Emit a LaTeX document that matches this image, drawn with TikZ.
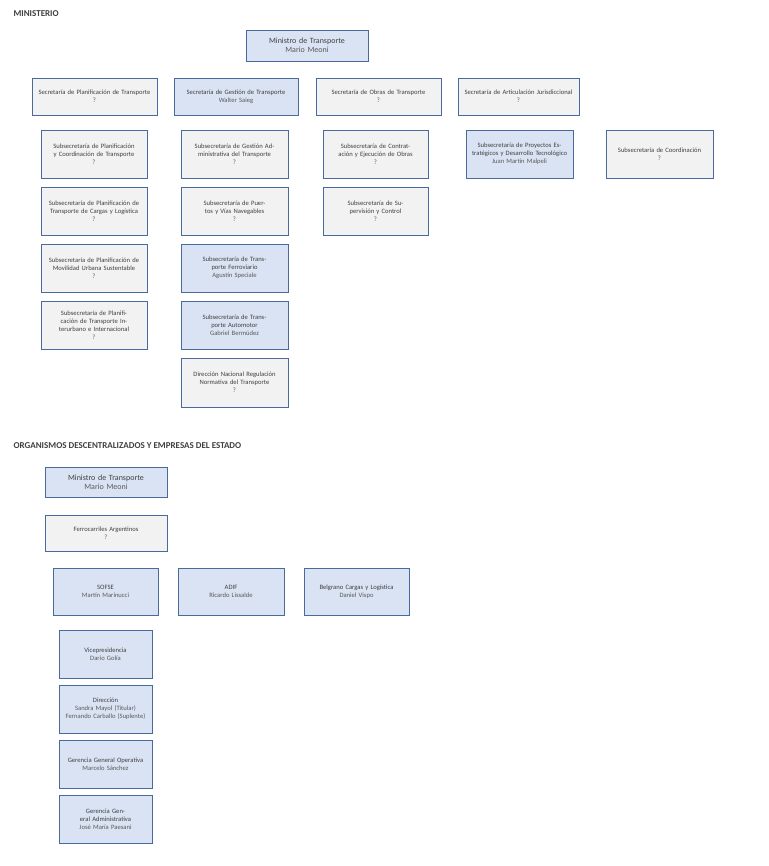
\documentclass[tikz,border=0pt]{standalone}
\usepackage{fontspec}
\setmainfont{Carlito}
\definecolor{bfill}{HTML}{DAE3F3}
\definecolor{gfill}{HTML}{F2F2F2}
\definecolor{bord}{HTML}{4A6A9C}
\definecolor{txt}{HTML}{404040}
\definecolor{ntxt}{HTML}{595959}
\tikzset{
 box/.style={draw=bord,line width=0.9pt,align=center,text=txt,font=\fontsize{6.6}{7.9}\selectfont,inner sep=1pt},
 gbox/.style={box,fill=gfill},
 bbox/.style={box,fill=bfill},
 head/.style={anchor=west,font=\bfseries\fontsize{9}{10}\selectfont,text=txt},
}
\newcommand{\nm}[1]{{\color{ntxt}#1}}
% \bx{name}{style}{x1}{y1}{x2}{y2}{text}
\newcommand{\bx}[7]{\node[#2,minimum width={(#5-#3)*1pt},minimum height={(#6-#4)*1pt},text width={(#5-#3-6)*1pt}] (#1) at ({(#3+#5)/2},{(#4+#6)/2}) {#7};}
\begin{document}
\begin{tikzpicture}[x=1pt,y=-1pt]
\useasboundingbox[fill=white] (0,0) rectangle (768,866);
\node[head] (h1) at (10,14) {MINISTERIO};
\bx{min}{bbox,font=\fontsize{8}{9.5}\selectfont}{246}{30}{368}{61}{Ministro de Transporte\\\nm{Mario Meoni}}
\bx{s1}{gbox}{32}{78}{157}{115}{Secretaría de Planificación de Transporte\\\nm{?}}
\bx{s2}{bbox}{174}{78}{298}{115}{Secretaría de Gestión de Transporte\\\nm{Walter Saieg}}
\bx{s3}{gbox}{316}{78}{441}{115}{Secretaría de Obras de Transporte\\\nm{?}}
\bx{s4}{gbox}{458}{78}{579}{115}{Secretaría de Articulación Jurisdiccional\\\nm{?}}
\bx{a1}{gbox}{41}{130}{147}{178}{Subsecretaría de Planificación y Coordinación de Transporte\\\nm{?}}
\bx{a2}{gbox}{41}{187}{147}{235}{Subsecretaría de Planificación de Transporte de Cargas y Logística\\\nm{?}}
\bx{a3}{gbox}{41}{244}{147}{292}{Subsecretaría de Planificación de Movilidad Urbana Sustentable\\\nm{?}}
\bx{a4}{gbox}{41}{301}{147}{349}{Subsecretaría de Planificación de Transporte Interurbano e Internacional\\\nm{?}}
\bx{b1}{gbox}{181}{130}{288}{178}{Subsecretaría de Gestión Administrativa del Transporte\\\nm{?}}
\bx{b2}{gbox}{181}{187}{288}{235}{Subsecretaría de Puertos y Vías Navegables\\\nm{?}}
\bx{b3}{bbox}{181}{244}{288}{292}{Subsecretaría de Transporte Ferroviario\\\nm{Agustín Speciale}}
\bx{b4}{bbox}{181}{301}{288}{349}{Subsecretaría de Transporte Automotor\\\nm{Gabriel Bermúdez}}
\bx{b5}{gbox}{181}{358}{288}{407}{Dirección Nacional Regulación Normativa del Transporte\\\nm{?}}
\bx{c1}{gbox}{323}{130}{428}{178}{Subsecretaría de Contratación y Ejecución de Obras\\\nm{?}}
\bx{c2}{gbox}{323}{187}{428}{235}{Subsecretaría de Supervisión y Control\\\nm{?}}
\bx{d1}{bbox}{466}{130}{573}{178}{Subsecretaría de Proyectos Estratégicos y Desarrollo Tecnológico\\\nm{Juan Martín Malpeli}}
\bx{e1}{gbox}{606}{130}{713}{178}{Subsecretaría de Coordinación\\\nm{?}}
\node[head] (h2) at (10,446) {ORGANISMOS DESCENTRALIZADOS Y EMPRESAS DEL ESTADO};
\bx{min2}{bbox,font=\fontsize{8}{9.5}\selectfont}{45}{467}{167}{497}{Ministro de Transporte\\\nm{Mario Meoni}}
\bx{fa}{gbox}{45}{515}{167}{551}{Ferrocarriles Argentinos\\\nm{?}}
\bx{sofse}{bbox}{53}{568}{158}{615}{SOFSE\\\nm{Martín Marinucci}}
\bx{adif}{bbox}{178}{568}{284}{615}{ADIF\\\nm{Ricardo Lissalde}}
\bx{bcl}{bbox}{304}{568}{409}{615}{Belgrano Cargas y Logística\\\nm{Daniel Vispo}}
\bx{v1}{bbox}{59}{630}{152}{678}{Vicepresidencia\\\nm{Darío Golía}}
\bx{v2}{bbox}{59}{685}{152}{733}{Dirección\\\nm{Sandra Mayol (Titular)\\Fernando Carballo (Suplente)}}
\bx{v3}{bbox}{59}{740}{152}{788}{Gerencia General Operativa\\\nm{Marcelo Sánchez}}
\bx{v4}{bbox}{59}{795}{152}{843}{Gerencia General Administrativa\\\nm{José María Paesani}}
\end{tikzpicture}
\end{document}
